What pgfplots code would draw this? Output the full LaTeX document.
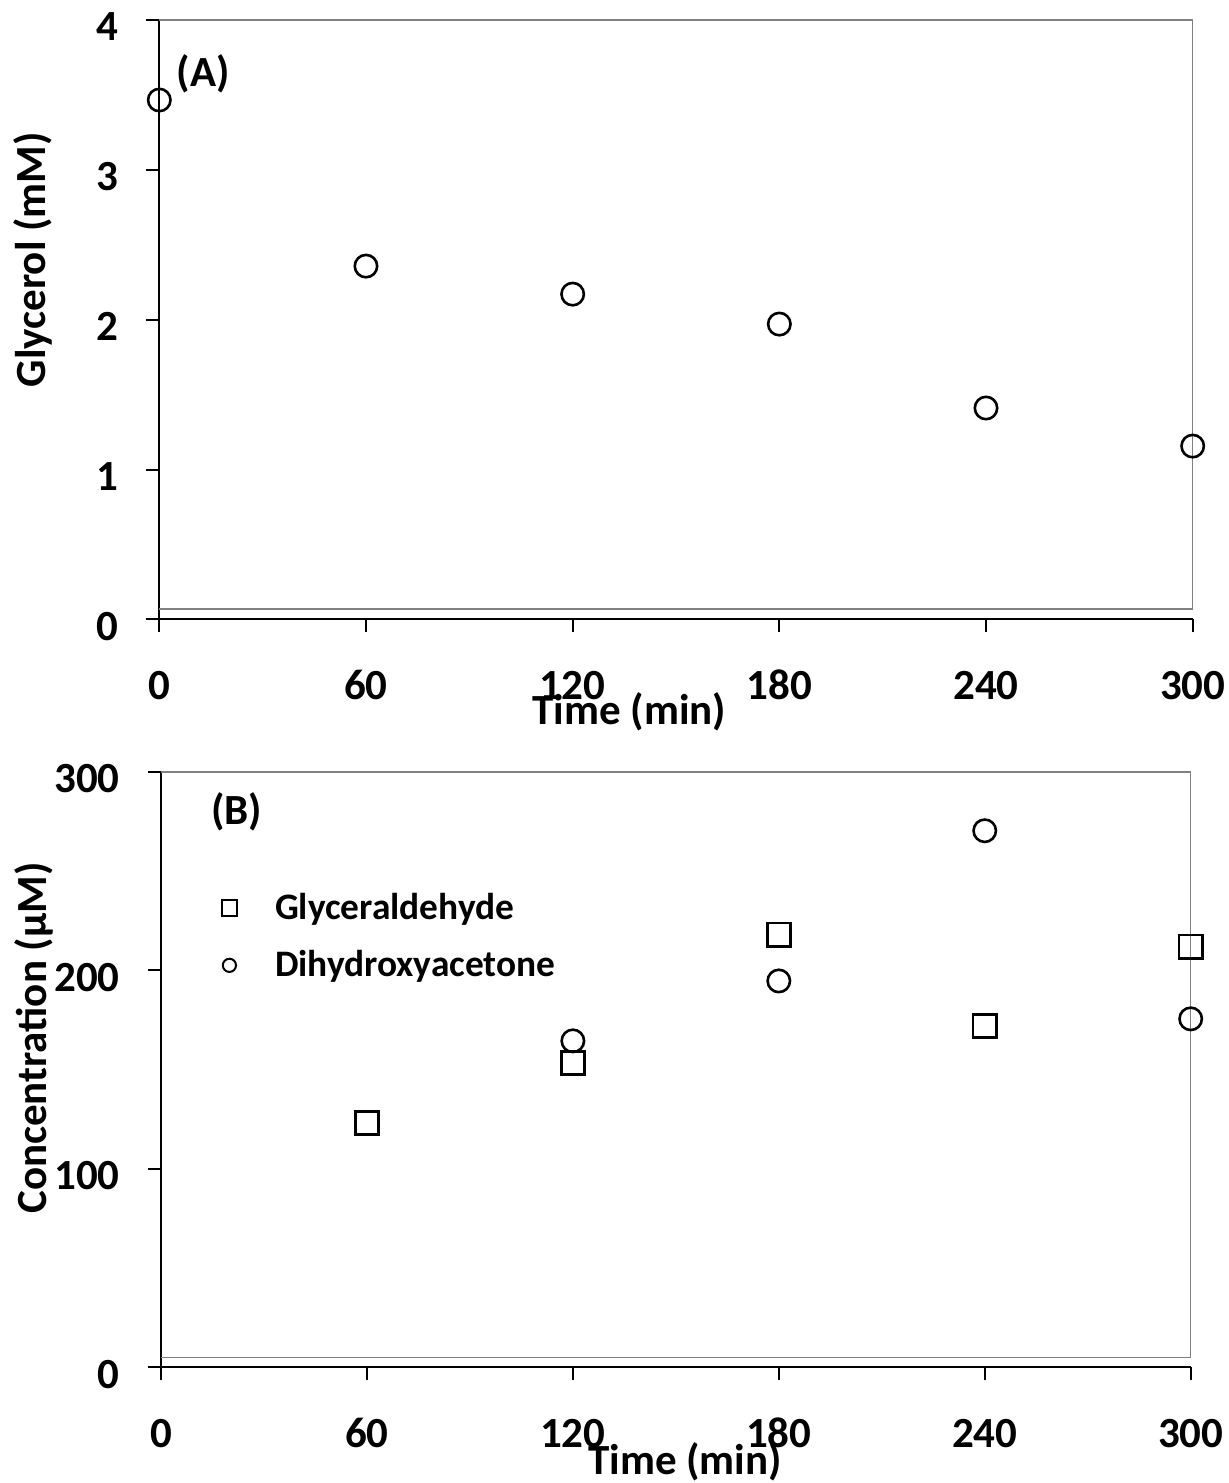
\documentclass[border=0pt]{standalone}
\usepackage{pgfplots}
\pgfplotsset{compat=1.18}
\usepackage{fontspec}
\setmainfont{Carlito}
\definecolor{framegray}{RGB}{128,128,128}
\begin{document}
\begin{tikzpicture}
\useasboundingbox (0,0) rectangle (614.5pt,741.5pt);
\pgfplotsset{
  mystyle/.style={
    scale only axis, anchor=south west, clip=false,
    axis x line*=bottom, axis y line*=left,
    axis line style={black, line width=1pt, -},
    tick align=outside, major tick length=6.5pt,
    every tick/.style={black, line width=1pt},
    xmin=0, xmax=300, xtick={0,60,120,180,240,300},
    /pgf/number format/assume math mode=true,
    tick label style={font=\fontsize{21.5}{26}\selectfont\bfseries},
    xticklabel style={anchor=base, inner sep=0pt, yshift=-33.5pt},
    yticklabel style={anchor=east, inner sep=0pt, xshift=-14pt, yshift=-3.5pt},
    label style={font=\fontsize{21.5}{26}\selectfont\bfseries},
  },
}
% ---------- Panel A ----------
\begin{axis}[mystyle,
  at={(79.65pt,431.75pt)}, width=516.7pt, height=299.75pt,
  ymin=0, ymax=4, ytick={0,1,2,3,4},
  xlabel={Time (min)}, ylabel={Glycerol (mM)},
  xlabel style={at={(axis description cs:0.455,-0.154)}, anchor=center},
  ylabel style={at={(axis description cs:-0.122,0.600)}, anchor=center},
]
\draw[framegray, line width=0.7pt] (axis cs:0,0.069) -- (axis cs:300,0.069) -- (axis cs:300,4) -- (axis cs:0,4);
\addplot[only marks, mark=o, mark size=5.6pt, line width=1.3pt, black] coordinates {
  (0,3.466) (60,2.358) (120,2.171) (180,1.971) (240,1.411) (300,1.157)
};
\node[font=\fontsize{21.5}{26}\selectfont\bfseries, anchor=center] at (axis cs:12.7,3.64) {(A)};
\end{axis}
% ---------- Panel B ----------
\begin{axis}[mystyle,
  at={(80.5pt,57.85pt)}, width=514.85pt, height=297.65pt,
  ymin=0, ymax=300, ytick={0,100,200,300},
  xlabel={Time (min)}, ylabel={Concentration (µM)},
  xlabel style={at={(axis description cs:0.509,-0.159)}, anchor=center},
  ylabel style={at={(axis description cs:-0.123,0.553)}, anchor=center},
  legend style={draw=none, fill=none, inner sep=0pt,
    at={(axis cs:17.6,240)}, anchor=north west,
    row sep=12pt, column sep=18pt,
    font=\fontsize{18.7}{22}\selectfont\bfseries,
    nodes={inner sep=1pt}},
  legend cell align=left,
]
\draw[framegray, line width=0.7pt] (axis cs:0,5) -- (axis cs:300,5) -- (axis cs:300,300) -- (axis cs:0,300);
\addlegendimage{legend image code/.code={\draw[black, line width=1pt, mark size=3.8pt] plot[mark=square] coordinates {(0pt,0pt)};}}
\addlegendentry{Glyceraldehyde}
\addlegendimage{legend image code/.code={\draw[black, line width=1pt, mark size=3.3pt] plot[mark=o] coordinates {(0pt,0pt)};}}
\addlegendentry{Dihydroxyacetone}
\addplot[forget plot, only marks, mark=square, mark size=5.8pt, line width=1.3pt, black] coordinates {
  (60,123.1) (120,153.4) (180,218) (240,172) (300,212)
};
\addplot[forget plot, only marks, mark=o, mark size=5.6pt, line width=1.3pt, black] coordinates {
  (120,164.5) (180,194.7) (240,270.4) (300,175.6)
};
\node[font=\fontsize{21.5}{26}\selectfont\bfseries, anchor=center] at (axis cs:22.1,280) {(B)};
\end{axis}
\end{tikzpicture}
\end{document}
